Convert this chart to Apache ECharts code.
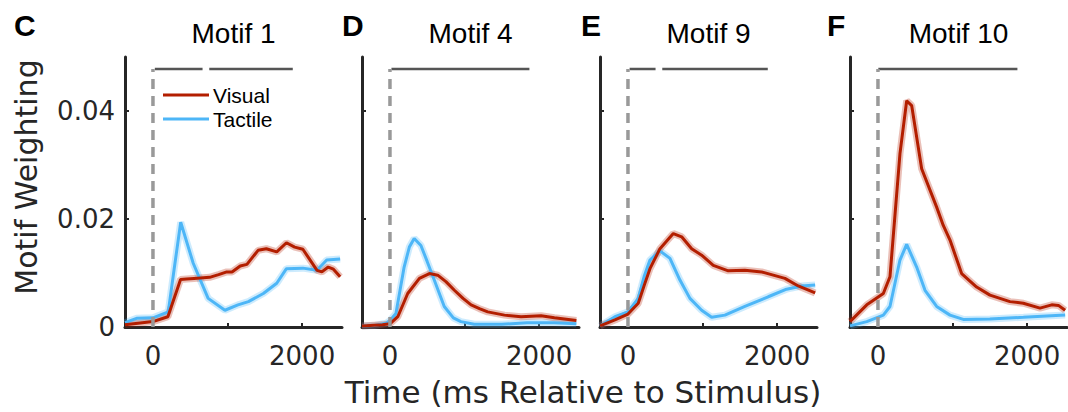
<!DOCTYPE html>
<html><head><meta charset="utf-8">
<script src="https://cdn.jsdelivr.net/npm/echarts@6/dist/echarts.min.js"></script>
<style>html,body{margin:0;padding:0;background:#fff}#chart{width:1068px;height:412px}</style>
</head><body><div id="chart"></div>
<script>
// ---------- data ----------
const panelTitles = ['Motif 1', 'Motif 4', 'Motif 9', 'Motif 10'];
const panelLetters = ['C', 'D', 'E', 'F'];
const xTickValues = [0, 1000, 2000];
const xLabelValues = [0, 2000];
const yTickValues = [0, 0.02, 0.04];
const xTitle = 'Time (ms Relative to Stimulus)';
const yTitle = 'Motif Weighting';
const seriesNames = ['Visual', 'Tactile'];
const stimOnset = 0;
const sigLevel = 0.0478;

const visualC = [[-375,0.0004],[-200,0.0007],[0,0.001],[200,0.0019],[370,0.0088],[450,0.0089],[550,0.009],[760,0.0092],[880,0.0097],[990,0.0102],[1060,0.0102],[1170,0.0113],[1260,0.0116],[1410,0.0142],[1520,0.0145],[1660,0.0139],[1790,0.0156],[1900,0.0148],[2010,0.0144],[2200,0.0105],[2265,0.0102],[2350,0.0111],[2420,0.0107],[2510,0.0093]];
const tactileC = [[-375,0.0008],[-220,0.0016],[0,0.0017],[205,0.0028],[295,0.0118],[372,0.0194],[540,0.0118],[740,0.0053],[965,0.0031],[1140,0.0041],[1280,0.0047],[1480,0.0062],[1660,0.0081],[1790,0.0108],[2010,0.0109],[2200,0.0105],[2330,0.0124],[2510,0.0126]];

const visualD = [[-375,0.0002],[-100,0.0004],[0,0.0006],[105,0.0019],[238,0.0062],[395,0.009],[529,0.0099],[640,0.0096],[750,0.0084],[864,0.0068],[980,0.0053],[1088,0.0041],[1200,0.0034],[1311,0.0028],[1535,0.0022],[1758,0.0019],[2026,0.0021],[2205,0.0017],[2500,0.0012]];
const tactileD = [[-375,0.0002],[-200,0.0003],[-50,0.0007],[0,0.0012],[80,0.0025],[190,0.0111],[260,0.0148],[325,0.0164],[415,0.0151],[500,0.0121],[594,0.0087],[728,0.0038],[850,0.0017],[951,0.001],[1130,0.0005],[1500,0.0005],[1838,0.0008],[2200,0.0008],[2500,0.0006]];

const visualE = [[-375,0.0002],[-175,0.0013],[0,0.0024],[138,0.0044],[220,0.0078],[295,0.0108],[429,0.0145],[608,0.0173],[720,0.0167],[854,0.0145],[988,0.0133],[1144,0.0114],[1345,0.0104],[1568,0.0105],[1792,0.0102],[2105,0.009],[2283,0.0076],[2510,0.0063]];
const tactileE = [[-375,0.0002],[-175,0.0019],[0,0.0028],[138,0.0053],[220,0.0095],[295,0.0124],[429,0.0141],[563,0.0127],[697,0.0087],[831,0.0053],[988,0.0031],[1122,0.0018],[1300,0.0022],[1568,0.0038],[1881,0.0056],[2127,0.007],[2329,0.0076],[2510,0.0078]];

const visualF = [[-375,0.001],[-150,0.0041],[72,0.0062],[161,0.0093],[295,0.0321],[385,0.0419],[452,0.041],[586,0.0293],[787,0.0222],[876,0.0188],[966,0.0161],[1122,0.0099],[1323,0.0074],[1502,0.0059],[1770,0.0047],[1949,0.0044],[2173,0.0035],[2330,0.0041],[2420,0.004],[2510,0.0031]];
const tactileF = [[-375,0.0002],[-150,0.001],[72,0.0022],[161,0.0038],[295,0.0124],[385,0.0153],[519,0.0111],[631,0.0068],[787,0.0038],[966,0.0022],[1144,0.0014],[1500,0.0015],[1950,0.0018],[2510,0.0022]];

const sigC = [[25,665],[755,1875]];
const sigD = [[20,1870]];
const sigE = [[22,370],[460,1875]];
const sigF = [[5,1870]];

// ---------- layout / style ----------
const visualData = [visualC, visualD, visualE, visualF];
const tactileData = [tactileC, tactileD, tactileE, tactileF];
const sigData = [sigC, sigD, sigE, sigF];
const gridLefts = [125, 362, 600, 850];
const gridW = 217, gridTop = 57, gridH = 270;
const letterX = [14, 342, 581, 827];
const RED = '#B31E00', BLUE = '#4DB6F7', AX = '#262626';

const grids = [], xAxes = [], yAxes = [], series = [], graphics = [];
for (let i = 0; i < 4; i++) {
  grids.push({left: gridLefts[i], top: gridTop, width: gridW, height: gridH});
  xAxes.push({
    gridIndex: i, type: 'value', min: -375, max: 2535,
    axisLine: {show: true, onZero: false, lineStyle: {color: AX, width: 3}},
    axisTick: {show: true, inside: true, length: 4, customValues: xTickValues, lineStyle: {color: AX, width: 2}},
    axisLabel: {show: true, customValues: xLabelValues, formatter: v => String(v),
      fontFamily: 'DejaVu Sans', fontSize: 26, color: AX, margin: 16},
    splitLine: {show: false}
  });
  yAxes.push({
    gridIndex: i, type: 'value', min: 0, max: 0.05,
    axisLine: {show: true, onZero: false, lineStyle: {color: AX, width: 3}},
    axisTick: {show: true, inside: true, length: 4, customValues: yTickValues, lineStyle: {color: AX, width: 2}},
    axisLabel: {show: i === 0, customValues: yTickValues, formatter: v => String(v),
      fontFamily: 'DejaVu Sans', fontSize: 26, color: AX, margin: 10},
    splitLine: {show: false}
  });
  const pairs = [[tactileData[i], BLUE, seriesNames[1]], [visualData[i], RED, seriesNames[0]]];
  pairs.forEach(([d, c, n]) => {
    series.push({type: 'line', name: n + ' band', xAxisIndex: i, yAxisIndex: i, data: d, symbol: 'none',
      lineStyle: {color: c, width: 7, opacity: 0.28}, silent: true, z: 2});
  });
  pairs.forEach(([d, c, n]) => {
    series.push({type: 'line', name: n, xAxisIndex: i, yAxisIndex: i, data: d, symbol: 'none',
      lineStyle: {color: c, width: 3}, itemStyle: {color: c}, z: 3});
  });
  sigData[i].forEach(seg => {
    series.push({type: 'line', name: 'sig', xAxisIndex: i, yAxisIndex: i,
      data: [[seg[0], sigLevel], [seg[1], sigLevel]], symbol: 'none',
      lineStyle: {color: '#555555', width: 2.5}, z: 4});
  });
  series.push({type: 'line', name: 'onset', xAxisIndex: i, yAxisIndex: i,
    data: [[stimOnset, 0], [stimOnset, sigLevel]], symbol: 'none',
    lineStyle: {color: '#999999', width: 3.5, type: [10, 7]}, z: 5});

  graphics.push({type: 'text', x: gridLefts[i] + gridW / 2, y: 33,
    style: {text: panelTitles[i], fontFamily: 'Liberation Sans, Arial', fontSize: 28, fill: '#000', align: 'center', verticalAlign: 'middle'}});
  graphics.push({type: 'text', x: letterX[i], y: 25,
    style: {text: panelLetters[i], fontFamily: 'Liberation Sans, Arial', fontWeight: 'bold', fontSize: 30, fill: '#000', align: 'left', verticalAlign: 'middle'}});
}
graphics.push({type: 'text', x: 583, y: 392,
  style: {text: xTitle, fontFamily: 'DejaVu Sans', fontSize: 31, fill: AX, align: 'center', verticalAlign: 'middle'}});
graphics.push({type: 'text', x: 26, y: 177, rotation: Math.PI / 2,
  style: {text: yTitle, fontFamily: 'DejaVu Sans', fontSize: 30, fill: AX, align: 'center', verticalAlign: 'middle'}});

const chart = echarts.init(document.getElementById('chart'), null, {renderer: 'svg'});
chart.setOption({
  animation: false,
  backgroundColor: '#fff',
  grid: grids, xAxis: xAxes, yAxis: yAxes, series: series, graphic: graphics,
  legend: {
    data: seriesNames, orient: 'vertical', left: 163, top: 83, padding: 0,
    icon: 'rect', itemWidth: 46, itemHeight: 3, itemGap: 0, selectedMode: false,
    textStyle: {fontFamily: 'Liberation Sans, Arial', fontSize: 21, color: '#000', lineHeight: 24, padding: [0, 0, 0, -1]}
  }
});
</script></body></html>
